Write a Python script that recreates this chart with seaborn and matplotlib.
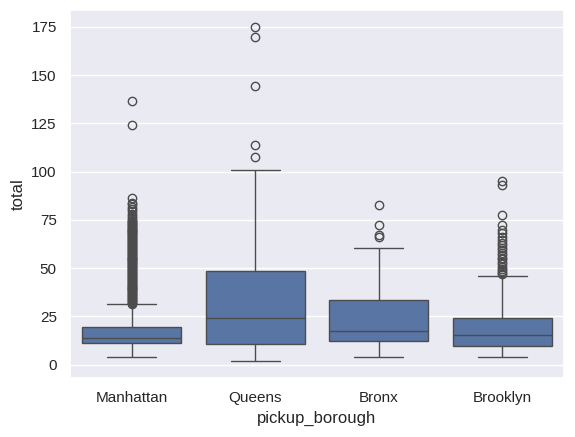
import matplotlib
matplotlib.use("Agg")
import matplotlib.pyplot as plt
import pandas as pd
import seaborn as sns

sns.set_theme()
plt.rcParams["font.family"] = ["Liberation Sans", "DejaVu Sans"]

boroughs = ["Manhattan", "Queens", "Bronx", "Brooklyn"]

# box summary: low whisker, q1, median, q3, high whisker
box_manhattan = [3.8, 11.3, 14.1, 19.3, 31.2]
box_queens = [1.8, 10.6, 24.0, 48.7, 100.7]
box_bronx = [3.9, 12.3, 17.3, 33.3, 60.6]
box_brooklyn = [3.8, 9.6, 15.3, 24.3, 46.1]

# outliers (fliers)
out_manhattan = [31.5, 32, 32.5, 33, 33.5, 34, 34.5, 35, 35.5, 36, 36.5, 37,
                 37.5, 38, 38.5, 39, 39.5, 40, 40.5, 41, 41.5, 42, 42.5, 43,
                 43.5, 44, 44.5, 45, 45.5, 46, 46.5, 47, 47.5, 48, 48.5, 49,
                 49.5, 50, 50.5, 51, 51.5, 52, 52.5, 53, 53.5, 54, 54.5, 55,
                 55.5, 56, 56.5, 57, 57.5, 58, 58.5, 59, 59.5, 60, 60.5, 61,
                 61.5, 62, 62.5, 63, 63.5, 64, 64.5, 65, 65.5, 66, 66.5, 67,
                 67.5, 68, 68.5, 69, 69.5, 70, 70.5, 71, 71.5, 72, 72.5, 73,
                 73.5, 74, 74.5, 75, 76, 77, 78, 79.5, 80.5, 81.5, 83, 84,
                 86.2, 123.9, 136.8]
out_queens = [107.6, 113.6, 144.5, 169.8, 175.0]
out_bronx = [66.0, 67.4, 72.4, 82.7]
out_brooklyn = [46.8, 47.5, 48.5, 49.5, 50.5, 52, 53, 54.5, 55.5, 57, 58, 59.5,
                60.5, 62, 63, 64.5, 66, 68, 70, 72.5, 77.4, 93.3, 95.4]


def sample(box, outliers):
    # repeat the quartile values so the box lands on them exactly
    low, q1, med, q3, high = box
    m = len(outliers) + 5
    return [low] + [q1] * m + [med] * m + [q3] * m + [high] + outliers


rows = []
for name, box, outl in zip(boroughs,
                           [box_manhattan, box_queens, box_bronx, box_brooklyn],
                           [out_manhattan, out_queens, out_bronx, out_brooklyn]):
    for v in sample(box, outl):
        rows.append({"pickup_borough": name, "total": v})
df = pd.DataFrame(rows)

fig = plt.figure(figsize=(5.75, 4.37), dpi=100)
ax = fig.add_axes([0.1217, 0.135, 0.8593, 0.842])
sns.boxplot(data=df, x="pickup_borough", y="total", order=boroughs, ax=ax)

fig.savefig("out.png", dpi=100)
